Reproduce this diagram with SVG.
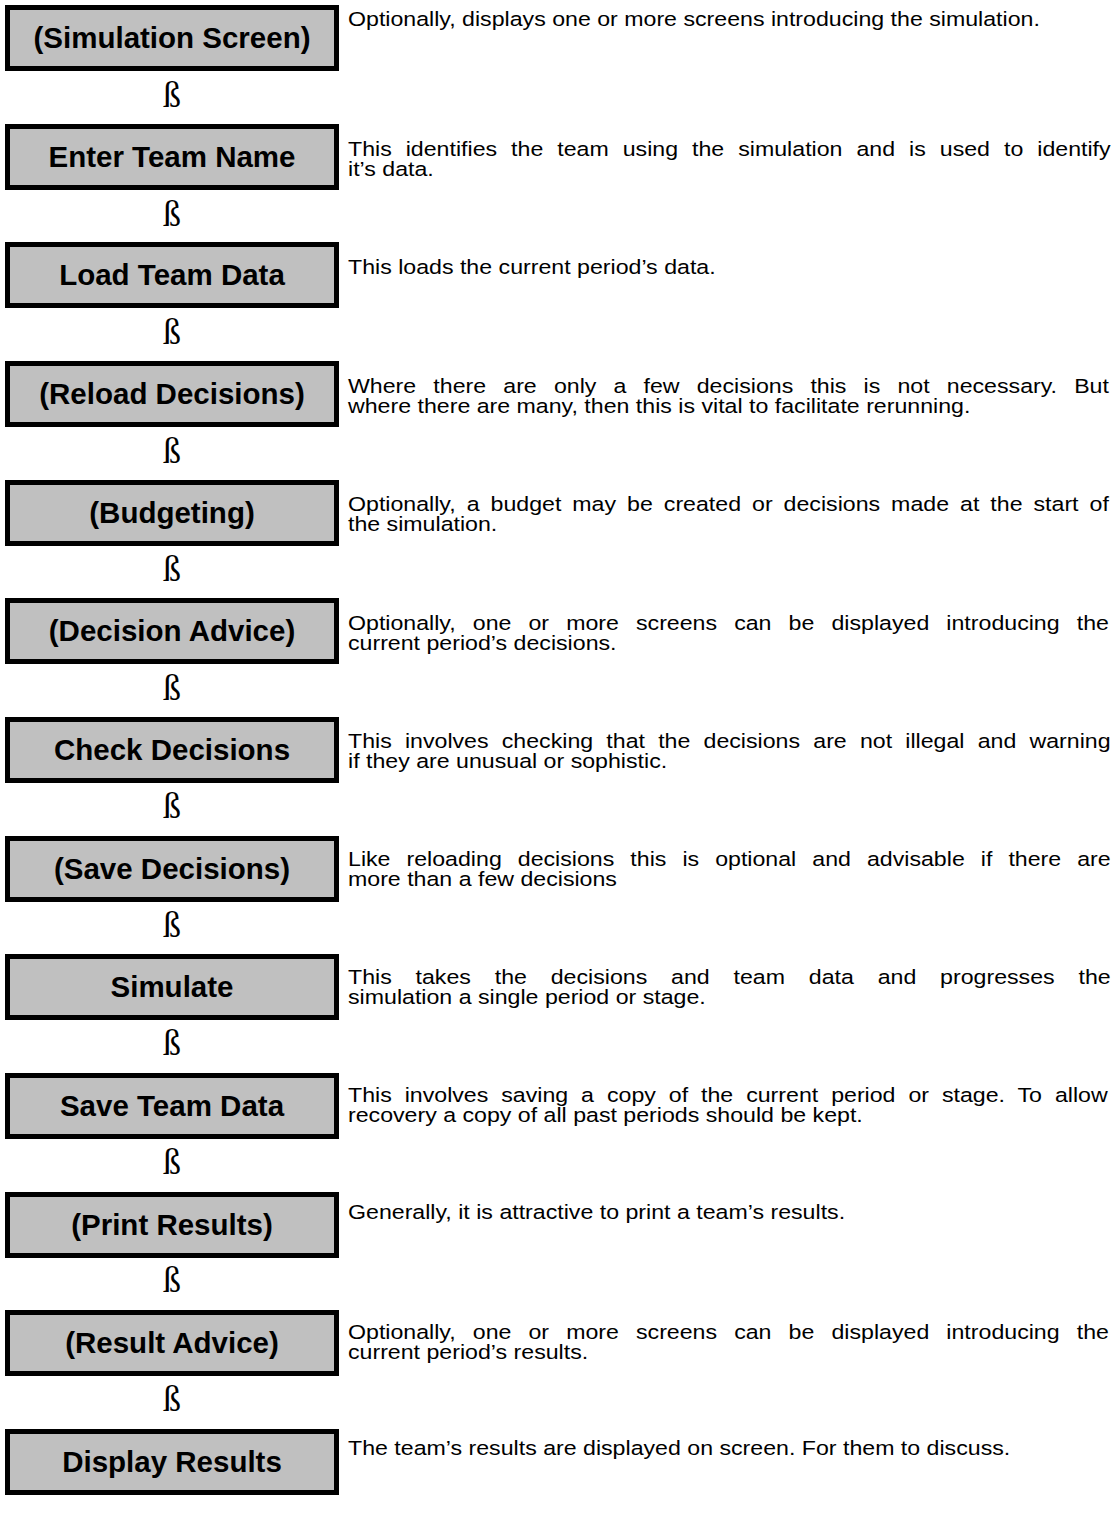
<svg xmlns="http://www.w3.org/2000/svg" width="1120" height="1520" viewBox="0 0 1120 1520">
<style>
.box{fill:#c0c0c0;stroke:#000;stroke-width:5}
.lbl{font-family:"Liberation Sans",Arial,sans-serif;font-weight:bold;font-size:29.5px;text-anchor:middle;fill:#000}
.desc{font-family:"Liberation Sans",Arial,sans-serif;font-size:20.5px;fill:#000}
.arr{font-family:"Liberation Serif","Times New Roman",serif;font-size:36px;text-anchor:middle;fill:#000}
</style>
<rect width="1120" height="1520" fill="#fff"/>
<g id="n0"><rect class="box" x="7.5" y="7.5" width="329" height="61"/><text class="lbl" x="172" y="47.5">(Simulation Screen)</text>
<text class="desc" transform="translate(348,26) scale(1.13,1)">Optionally, displays one or more screens introducing the simulation.</text></g>
<g id="n1"><rect class="box" x="7.5" y="126.5" width="329" height="61"/><text class="lbl" x="172" y="166.5">Enter Team Name</text>
<text class="desc" transform="translate(348,156) scale(1.13,1)" word-spacing="6.69">This identifies the team using the simulation and is used to identify</text>
<text class="desc" transform="translate(348,175.5) scale(1.13,1)">it’s data.</text></g>
<g id="n2"><rect class="box" x="7.5" y="244.5" width="329" height="61"/><text class="lbl" x="172" y="284.5">Load Team Data</text>
<text class="desc" transform="translate(348,274) scale(1.13,1)">This loads the current period’s data.</text></g>
<g id="n3"><rect class="box" x="7.5" y="363.5" width="329" height="61"/><text class="lbl" x="172" y="403.5">(Reload Decisions)</text>
<text class="desc" transform="translate(348,393) scale(1.13,1)" word-spacing="9.49">Where there are only a few decisions this is not necessary. But</text>
<text class="desc" transform="translate(348,412.5) scale(1.13,1)">where there are many, then this is vital to facilitate rerunning.</text></g>
<g id="n4"><rect class="box" x="7.5" y="482.5" width="329" height="61"/><text class="lbl" x="172" y="522.5">(Budgeting)</text>
<text class="desc" transform="translate(348,511) scale(1.13,1)" word-spacing="4.04">Optionally, a budget may be created or decisions made at the start of</text>
<text class="desc" transform="translate(348,530.5) scale(1.13,1)">the simulation.</text></g>
<g id="n5"><rect class="box" x="7.5" y="600.5" width="329" height="61"/><text class="lbl" x="172" y="640.5">(Decision Advice)</text>
<text class="desc" transform="translate(348,630) scale(1.13,1)" word-spacing="9.44">Optionally, one or more screens can be displayed introducing the</text>
<text class="desc" transform="translate(348,649.5) scale(1.13,1)">current period’s decisions.</text></g>
<g id="n6"><rect class="box" x="7.5" y="719.5" width="329" height="61"/><text class="lbl" x="172" y="759.5">Check Decisions</text>
<text class="desc" transform="translate(348,748) scale(1.13,1)" word-spacing="5.99">This involves checking that the decisions are not illegal and warning</text>
<text class="desc" transform="translate(348,767.5) scale(1.13,1)">if they are unusual or sophistic.</text></g>
<g id="n7"><rect class="box" x="7.5" y="838.5" width="329" height="61"/><text class="lbl" x="172" y="878.5">(Save Decisions)</text>
<text class="desc" transform="translate(348,866) scale(1.13,1)" word-spacing="8.5">Like reloading decisions this is optional and advisable if there are</text>
<text class="desc" transform="translate(348,885.5) scale(1.13,1)">more than a few decisions</text></g>
<g id="n8"><rect class="box" x="7.5" y="956.5" width="329" height="61"/><text class="lbl" x="172" y="996.5">Simulate</text>
<text class="desc" transform="translate(348,984) scale(1.13,1)" word-spacing="15.39">This takes the decisions and team data and progresses the</text>
<text class="desc" transform="translate(348,1003.5) scale(1.13,1)">simulation a single period or stage.</text></g>
<g id="n9"><rect class="box" x="7.5" y="1075.5" width="329" height="61"/><text class="lbl" x="172" y="1115.5">Save Team Data</text>
<text class="desc" transform="translate(348,1102) scale(1.13,1)" word-spacing="5.76">This involves saving a copy of the current period or stage. To allow</text>
<text class="desc" transform="translate(348,1121.5) scale(1.13,1)">recovery a copy of all past periods should be kept.</text></g>
<g id="n10"><rect class="box" x="7.5" y="1194.5" width="329" height="61"/><text class="lbl" x="172" y="1234.5">(Print Results)</text>
<text class="desc" transform="translate(348,1219) scale(1.13,1)">Generally, it is attractive to print a team’s results.</text></g>
<g id="n11"><rect class="box" x="7.5" y="1312.5" width="329" height="61"/><text class="lbl" x="172" y="1352.5">(Result Advice)</text>
<text class="desc" transform="translate(348,1339) scale(1.13,1)" word-spacing="9.44">Optionally, one or more screens can be displayed introducing the</text>
<text class="desc" transform="translate(348,1358.5) scale(1.13,1)">current period’s results.</text></g>
<g id="n12"><rect class="box" x="7.5" y="1431.5" width="329" height="61"/><text class="lbl" x="172" y="1471.5">Display Results</text>
<text class="desc" transform="translate(348,1455) scale(1.13,1)">The team’s results are displayed on screen. For them to discuss.</text></g>
<g id="connectors">
<text class="arr" x="172" y="107">ß</text>
<text class="arr" x="172" y="225.5">ß</text>
<text class="arr" x="172" y="344">ß</text>
<text class="arr" x="172" y="462.5">ß</text>
<text class="arr" x="172" y="581">ß</text>
<text class="arr" x="172" y="699.5">ß</text>
<text class="arr" x="172" y="818">ß</text>
<text class="arr" x="172" y="936.5">ß</text>
<text class="arr" x="172" y="1055">ß</text>
<text class="arr" x="172" y="1173.5">ß</text>
<text class="arr" x="172" y="1292">ß</text>
<text class="arr" x="172" y="1410.5">ß</text>
</g>
</svg>
